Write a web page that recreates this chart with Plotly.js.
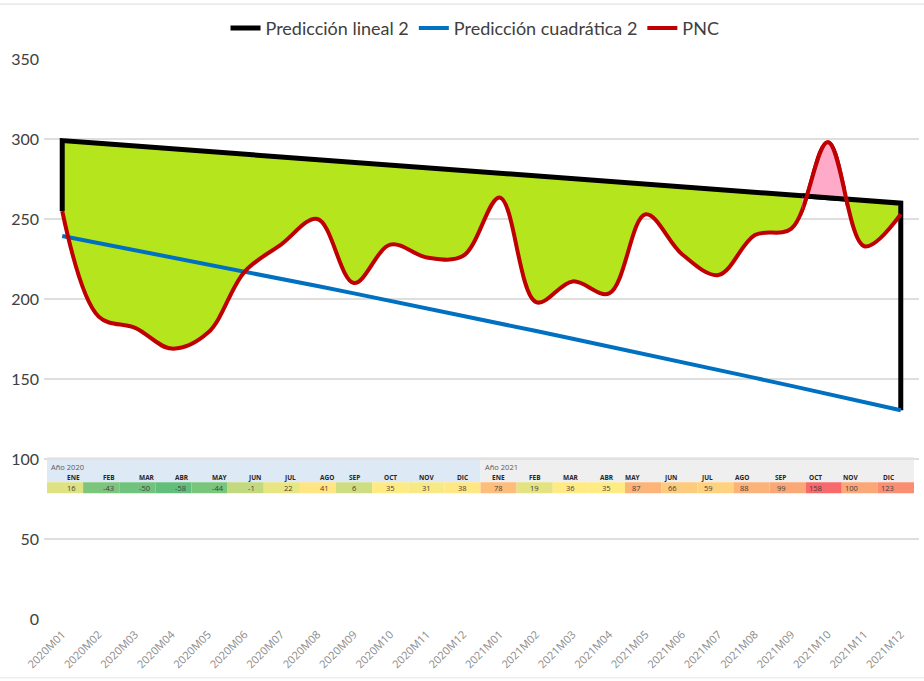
<!DOCTYPE html>
<html>
<head>
<meta charset="utf-8">
<script src="https://cdn.plot.ly/plotly-3.0.1.min.js"></script>
<style>
  html, body { margin: 0; padding: 0; background: #fff; }
  #grafico { width: 924px; height: 681px; }
</style>
</head>
<body>
<div id="grafico"></div>
<script>
// meses del eje x
const meses = ['2020M01', '2020M02', '2020M03', '2020M04', '2020M05', '2020M06',
    '2020M07', '2020M08', '2020M09', '2020M10', '2020M11', '2020M12',
    '2021M01', '2021M02', '2021M03', '2021M04', '2021M05', '2021M06',
    '2021M07', '2021M08', '2021M09', '2021M10', '2021M11', '2021M12'];

// series
const prediccionLineal = [299, 297.3, 295.6, 293.9, 292.2, 290.5, 288.8, 287.1, 285.4, 283.7, 282, 280.3,
    278.6, 276.9, 275.2, 273.5, 271.8, 270.1, 268.4, 266.7, 265, 263.3, 261.6, 259.9];
const prediccionCuadratica = [239.4, 235, 230.6, 226.2, 221.7, 217.2, 212.7, 208.1, 203.5, 198.9, 194.2, 189.5,
    184.8, 180, 175.2, 170.4, 165.5, 160.6, 155.7, 150.7, 145.7, 140.6, 135.6, 130.5];
const pnc = [255, 189, 182, 169, 179, 217, 234, 250, 210, 234, 226, 227,
    263.5, 198, 211, 203.5, 253, 228, 215, 240, 244, 298, 233, 253];

// tabla de variaciones
const tablaMeses = ['ENE', 'FEB', 'MAR', 'ABR', 'MAY', 'JUN', 'JUL', 'AGO', 'SEP', 'OCT', 'NOV', 'DIC'];
const tablaAnios = ['Año 2020', 'Año 2021'];
const variacion2020 = [16, -43, -50, -58, -44, -1, 22, 41, 6, 35, 31, 38];
const variacion2021 = [78, 19, 36, 35, 87, 66, 59, 88, 99, 158, 100, 123];

// tramo donde PNC supera la prediccion lineal (rosa)
const ventana = [20.3, 21.5];
const desde = 18; // puntos que necesita el spline en el tramo

// colores
const negro = '#000000';
const azul = '#0070c0';
const rojo = '#c00000';
const verde = '#b5e61d';
const rosa = '#ffaac9';

// escala de 3 colores estilo Excel (verde - amarillo - rojo)
const variaciones = variacion2020.concat(variacion2021);
const ordenadas = variaciones.slice().sort((a, b) => a - b);
const vMin = ordenadas[0];
const vMax = ordenadas[ordenadas.length - 1];
const vMed = (ordenadas[11] + ordenadas[12]) / 2;

function mezcla(c1, c2, t) {
    const r = Math.round(c1[0] + (c2[0] - c1[0]) * t);
    const g = Math.round(c1[1] + (c2[1] - c1[1]) * t);
    const b = Math.round(c1[2] + (c2[2] - c1[2]) * t);
    return `rgb(${r},${g},${b})`;
}

function colorCelda(v) {
    const cVerde = [99, 190, 123], cAmarillo = [255, 235, 132], cRojo = [248, 105, 107];
    if (v <= vMed) return mezcla(cVerde, cAmarillo, (v - vMin) / (vMed - vMin));
    return mezcla(cAmarillo, cRojo, (v - vMed) / (vMax - vMed));
}

// trazas
const lineal = {
    x: [meses[0], ...meses, meses[meses.length - 1]],
    y: [pnc[0], ...prediccionLineal, prediccionCuadratica[prediccionCuadratica.length - 1]],
    type: 'scatter',
    mode: 'lines',
    name: 'Predicción lineal 2',
    line: { color: negro, width: 5 },
    legendrank: 1,
    hoverinfo: 'skip'
};

const relleno = {
    x: meses,
    y: pnc,
    type: 'scatter',
    mode: 'lines',
    line: { color: rojo, width: 0, shape: 'spline' },
    fill: 'tonexty',
    fillcolor: verde,
    showlegend: false,
    hoverinfo: 'skip'
};

const cuadratica = {
    x: meses,
    y: prediccionCuadratica,
    type: 'scatter',
    mode: 'lines',
    name: 'Predicción cuadrática 2',
    line: { color: azul, width: 4 },
    legendrank: 2,
    hoverinfo: 'skip'
};

const lineaPnc = {
    x: meses,
    y: pnc,
    type: 'scatter',
    mode: 'lines',
    name: 'PNC',
    line: { color: rojo, width: 4, shape: 'spline' },
    legendrank: 3,
    hoverinfo: 'skip'
};

// tramo rosa en un segundo eje recortado
const mesesTramo = meses.slice(desde);
const tramoBase = {
    x: mesesTramo, y: prediccionLineal.slice(desde), xaxis: 'x2', yaxis: 'y2',
    type: 'scatter', mode: 'lines', line: { width: 0 }, showlegend: false, hoverinfo: 'skip'
};
const tramoRosa = {
    x: mesesTramo, y: pnc.slice(desde), xaxis: 'x2', yaxis: 'y2',
    type: 'scatter', mode: 'lines', line: { width: 0, shape: 'spline' },
    fill: 'tonexty', fillcolor: rosa, showlegend: false, hoverinfo: 'skip'
};
const tramoNegro = {
    x: mesesTramo, y: prediccionLineal.slice(desde), xaxis: 'x2', yaxis: 'y2',
    type: 'scatter', mode: 'lines', line: { color: negro, width: 5 }, showlegend: false, hoverinfo: 'skip'
};
const tramoRojo = {
    x: mesesTramo, y: pnc.slice(desde), xaxis: 'x2', yaxis: 'y2',
    type: 'scatter', mode: 'lines', line: { color: rojo, width: 4, shape: 'spline' },
    showlegend: false, hoverinfo: 'skip'
};

// tabla (formas y textos)
const izq = 44, anchoPlot = 875;
const celda0 = 47, anchoCelda = 36.125;
const px = p => (p - izq) / anchoPlot;

const shapes = [];
const annotations = [];

// bordes del grafico
shapes.push({ type: 'line', xref: 'paper', yref: 'paper', x0: -0.06, x1: 1.01, y0: 1.098, y1: 1.098, line: { color: '#dcdcdc', width: 1 } });
shapes.push({ type: 'line', xref: 'paper', yref: 'paper', x0: -0.06, x1: 1.01, y0: -0.105, y1: -0.105, line: { color: '#e6e6e6', width: 1 } });

// fondo de encabezados
tablaAnios.forEach((anio, k) => {
    const x0 = celda0 + k * 12 * anchoCelda;
    const x1 = x0 + 12 * anchoCelda;
    shapes.push({
        type: 'rect', xref: 'paper', yref: 'y', layer: 'above',
        x0: px(x0), x1: px(x1), y0: 85.4, y1: 99.4,
        fillcolor: k === 0 ? '#dde9f5' : '#efefef', line: { width: 0 }
    });
    annotations.push({
        xref: 'paper', yref: 'y', x: px(x0 + 2), y: 94.8, text: anio, showarrow: false,
        xanchor: 'left', yanchor: 'middle', font: { family: 'Open Sans', size: 7.5, color: '#595959' }
    });
});
shapes.push({
    type: 'line', xref: 'paper', yref: 'y', layer: 'above',
    x0: px(celda0), x1: px(celda0 + 24 * anchoCelda), y0: 100.4, y1: 100.4,
    line: { color: '#e3e3e3', width: 2 }
});

variaciones.forEach((v, i) => {
    const x0 = celda0 + i * anchoCelda;
    shapes.push({
        type: 'rect', xref: 'paper', yref: 'y', layer: 'above',
        x0: px(x0), x1: px(x0 + anchoCelda), y0: 78.6, y1: 85.4,
        fillcolor: colorCelda(v), line: { width: 0 }
    });
    annotations.push({
        xref: 'paper', yref: 'y', x: px(x0 + anchoCelda / 2), y: 88.3,
        text: '<b>' + tablaMeses[i % 12] + '</b>', showarrow: false,
        font: { family: 'Open Sans', size: 6.5, color: '#262626' }
    });
    annotations.push({
        xref: 'paper', yref: 'y', x: px(x0 + anchoCelda / 2), y: 81.9,
        text: String(v), showarrow: false,
        font: { family: 'Open Sans', size: 7.5, color: '#404040' }
    });
});

const layout = {
    width: 924,
    height: 681,
    margin: { l: 44, r: 5, t: 59, b: 62 },
    paper_bgcolor: '#ffffff',
    plot_bgcolor: 'rgba(0,0,0,0)',
    font: { family: 'Lato, sans-serif', color: '#404040' },
    showlegend: true,
    legend: {
        orientation: 'h', x: 0.4926, xanchor: 'center', y: 1.055, yanchor: 'middle',
        font: { size: 18, color: '#404040' }, traceorder: 'normal'
    },
    xaxis: {
        type: 'category', categoryarray: meses, range: [-0.5, 23.5],
        tickangle: -45, tickfont: { family: 'Open Sans', size: 11, color: '#8a8a8a' },
        ticklabelstandoff: 6,
        showgrid: false, zeroline: false, showline: false, ticks: ''
    },
    yaxis: {
        range: [0, 350], tick0: 0, dtick: 50,
        gridcolor: '#dedede', gridwidth: 1.5, zeroline: false, showline: false, ticks: '',
        ticklabelstandoff: 4,
        tickfont: { size: 16, color: '#404040' }
    },
    xaxis2: {
        type: 'category', categoryarray: meses, range: ventana,
        domain: [(ventana[0] + 0.5) / 24, (ventana[1] + 0.5) / 24],
        anchor: 'y2', visible: false, showgrid: false
    },
    yaxis2: { range: [0, 350], domain: [0, 1], anchor: 'x2', visible: false, showgrid: false },
    shapes: shapes,
    annotations: annotations
};

Plotly.newPlot('grafico',
    [lineal, relleno, cuadratica, lineaPnc, tramoBase, tramoRosa, tramoNegro, tramoRojo],
    layout, { displayModeBar: false, staticPlot: true });
</script>
</body>
</html>
